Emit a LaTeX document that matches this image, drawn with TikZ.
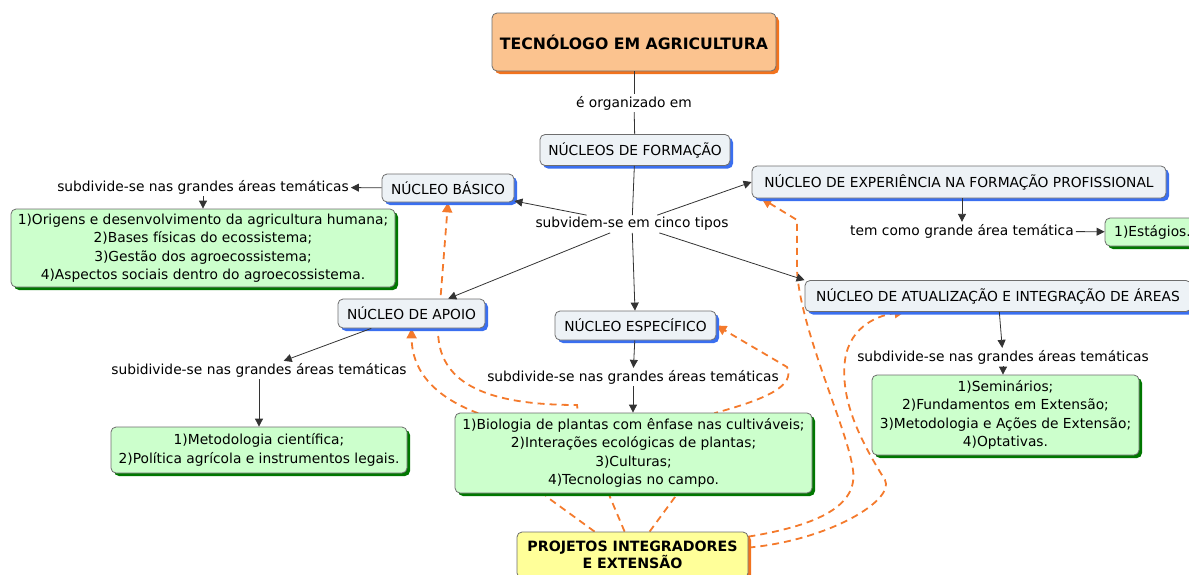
\documentclass[tikz,border=0pt]{standalone}
\usepackage{fontspec}
\setmainfont{DejaVu Sans}
\usetikzlibrary{arrows.meta,shadows}
\definecolor{orfill}{HTML}{FBC38F}
\definecolor{orshadow}{HTML}{F2731E}
\definecolor{nucfill}{HTML}{EDF2F6}
\definecolor{nucshadow}{HTML}{3A6FF0}
\definecolor{grfill}{HTML}{CCFFCC}
\definecolor{grshadow}{HTML}{007700}
\definecolor{yefill}{HTML}{FFFF99}
\definecolor{bordergray}{HTML}{6E6E6E}
\definecolor{linegray}{HTML}{333333}
\definecolor{dashor}{HTML}{F47A2C}
\pgfdeclarelayer{background}
\pgfsetlayers{background,main}
\tikzset{
  cbox/.style={draw=bordergray, rounded corners=5pt, line width=0.8pt, inner sep=0pt, align=center},
  nuc/.style={cbox, fill=nucfill, font=\fontsize{13.8}{16}\selectfont,
    drop shadow={fill=nucshadow, shadow xshift=3pt, shadow yshift=-3pt, opacity=1}},
  grn/.style={cbox, fill=grfill, font=\fontsize{13.8}{18.5}\selectfont,
    drop shadow={fill=grshadow, shadow xshift=3pt, shadow yshift=-3pt, opacity=1}},
  lbl/.style={inner sep=2pt, font=\fontsize{13.8}{16}\selectfont},
  arr/.style={draw=linegray, line width=0.8pt, -{Triangle[length=8pt,width=8pt]}},
  ln/.style={draw=linegray, line width=0.8pt},
  dsh/.style={draw=dashor, line width=1.8pt, dash pattern=on 7pt off 5pt,
    -{Triangle[length=10pt,width=10pt]}},
}
\begin{document}
\begin{tikzpicture}[x=1pt,y=-1pt]
\useasboundingbox (0,0) rectangle (1189,574);
% top
\node[cbox, fill=orfill, minimum width=284pt, minimum height=58pt,
  font=\fontsize{15.7}{18}\selectfont\bfseries,
  drop shadow={fill=orshadow, shadow xshift=3pt, shadow yshift=-3pt, opacity=1}]
  (tec) at (634,42) {TECNÓLOGO EM AGRICULTURA};
\node[lbl] (org) at (634,103) {é organizado em};
\node[nuc, minimum width=190pt, minimum height=31pt] (form) at (635,150) {NÚCLEOS DE FORMAÇÃO};
\node[lbl] (tipos) at (632,224) {subvidem-se em cinco tipos};
% basico
\node[nuc, minimum width=132pt, minimum height=28pt] (bas) at (448,188) {NÚCLEO BÁSICO};
\node[lbl] (lbas) at (203,187) {subdivide-se nas grandes áreas temáticas};
\node[grn, minimum width=384pt, minimum height=78pt] (gbas) at (203,248)
  {1)Origens e desenvolvimento da agricultura humana;\\2)Bases físicas do ecossistema;\\3)Gestão dos agroecossistema;\\4)Aspectos sociais dentro do agroecossistema.};
% experiencia
\node[nuc, minimum width=414pt, minimum height=32pt] (exp) at (959,182) {NÚCLEO DE EXPERIÊNCIA NA FORMAÇÃO PROFISSIONAL};
\node[lbl] (lexp) at (962,231) {tem como grande área temática};
\node[grn, minimum width=95pt, minimum height=28pt] (est) at (1152.5,232) {1)Estágios.};
% atualizacao
\node[nuc, minimum width=386pt, minimum height=31pt] (atu) at (998,296) {NÚCLEO DE ATUALIZAÇÃO E INTEGRAÇÃO DE ÁREAS};
\node[lbl] (latu) at (1003,357) {subdivide-se nas grandes áreas temáticas};
\node[grn, minimum width=267pt, minimum height=80pt] (gatu) at (1005.5,415)
  {1)Seminários;\\2)Fundamentos em Extensão;\\3)Metodologia e Ações de Extensão;\\4)Optativas.};
% apoio
\node[nuc, minimum width=147pt, minimum height=29pt] (apo) at (411.5,313.5) {NÚCLEO DE APOIO};
\node[lbl] (lapo) at (259,370) {subidivide-se nas grandes áreas temáticas};
\node[grn, minimum width=296pt, minimum height=46pt] (gapo) at (259,450)
  {1)Metodologia científica;\\2)Política agrícola e instrumentos legais.};
% especifico
\node[nuc, minimum width=161pt, minimum height=29pt] (esp) at (635.5,325.5) {NÚCLEO ESPECÍFICO};
\node[lbl] (lesp) at (633,377) {subdivide-se nas grandes áreas temáticas};
\node[grn, minimum width=357pt, minimum height=80pt] (gesp) at (633.5,453)
  {1)Biologia de plantas com ênfase nas cultiváveis;\\2)Interações ecológicas de plantas;\\3)Culturas;\\4)Tecnologias no campo.};
% projetos
\node[cbox, fill=yefill, minimum width=231pt, minimum height=46pt,
  font=\fontsize{14.2}{17.5}\selectfont\bfseries,
  drop shadow={fill=orshadow, shadow xshift=3pt, shadow yshift=-3pt, opacity=1}]
  (proj) at (632.5,555) {PROJETOS INTEGRADORES\\E EXTENSÃO};

% solid connectors
\draw[ln] (tec) -- (org);
\draw[ln] (org) -- (form);
\draw[ln] (form) -- (tipos);
\draw[arr] (tipos) -- (bas);
\draw[arr] (tipos) -- (exp.west);
\draw[arr] (tipos) -- (atu.north west);
\draw[arr] (tipos) -- (apo);
\draw[arr] (tipos) -- (esp);
\draw[arr] (bas) -- (lbas);
\draw[arr] (lbas) -- (lbas |- gbas.north);
\draw[arr] (exp.south -| lexp) -- (lexp);
\draw[arr] (lexp) -- (est);
\draw[arr] (atu) -- (latu);
\draw[arr] (latu) -- (latu |- gatu.north);
\draw[arr] (apo) -- (lapo);
\draw[arr] (lapo) -- (lapo |- gapo.north);
\draw[arr] (esp) -- (lesp);
\draw[arr] (lesp) -- (lesp |- gesp.north);

% dashed connectors
\begin{pgfonlayer}{background}
\draw[dsh] ([xshift=78pt]proj.north west) -- (547,497) -- (483,415)
  .. controls (440,400) and (412,375) .. (apo.south);
\draw[dsh] ([xshift=108pt]proj.north west) -- (610,497) -- (578,413) -- (577,405)
  .. controls (480,405) and (438,380) .. (438,330) -- (bas.south);
\draw[dsh] ([xshift=133pt]proj.north west) -- (675,497) -- (715,413)
  .. controls (770,398) and (795,385) .. (787,367) -- (esp.east);
\draw[dsh] ([yshift=-5pt]proj.north east)
  .. controls (820,525) and (858,505) .. (853,470)
  .. controls (848,430) and (800,330) .. (797,270) -- (797,220) -- ([xshift=10pt]exp.south west);
\draw[dsh] ([yshift=-16pt]proj.north east)
  .. controls (830,540) and (895,500) .. (885,480)
  .. controls (860,440) and (840,400) .. (845,360)
  .. controls (850,325) and (880,315) .. ([xshift=100pt]atu.south west);
\end{pgfonlayer}
\end{tikzpicture}
\end{document}
